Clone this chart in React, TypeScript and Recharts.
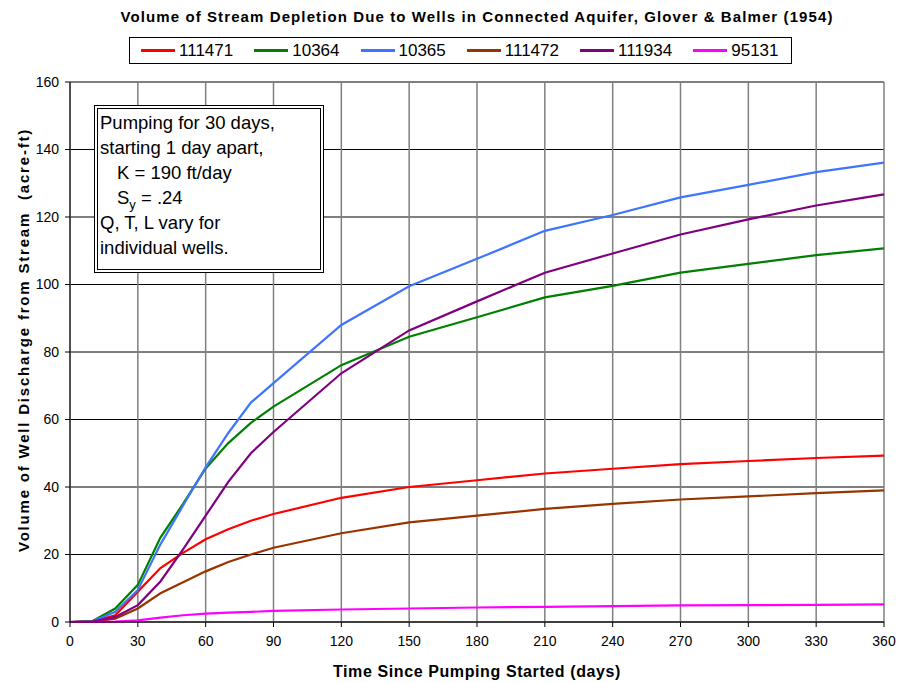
import { LineChart, Line, XAxis, YAxis, CartesianGrid } from 'recharts';

const days = [0, 10, 20, 30, 40, 50, 60, 70, 80, 90, 120, 150, 180, 210, 240, 270, 300, 330, 360];
const w111471 = [0, 0.2, 2, 9, 16, 20.5, 24.5, 27.5, 30, 32, 36.8, 40, 42, 44, 45.4, 46.8, 47.7, 48.6, 49.3];
const w10364 = [0, 0.3, 4, 11, 25, 35, 45.5, 53, 59, 63.8, 76.1, 84.5, 90.3, 96.2, 99.6, 103.5, 106.1, 108.7, 110.7];
const w10365 = [0, 0.2, 3, 9.5, 23, 34.5, 45.8, 56, 65, 70.8, 88, 99.5, 107.6, 115.9, 120.6, 125.8, 129.5, 133.3, 136.1];
const w111472 = [0, 0.1, 1, 4, 8.5, 11.8, 15, 17.8, 20, 22, 26.3, 29.5, 31.5, 33.5, 35, 36.3, 37.2, 38.2, 39];
const w111934 = [0, 0.1, 1.5, 5, 12, 21.5, 31.5, 41.5, 50, 56.3, 73.7, 86.4, 95, 103.5, 109.2, 114.8, 119.3, 123.4, 126.7];
const w95131 = [0, 0, 0.1, 0.5, 1.3, 2, 2.5, 2.8, 3, 3.3, 3.7, 4, 4.3, 4.5, 4.7, 4.9, 5, 5.1, 5.2];

const xTicks = [0, 30, 60, 90, 120, 150, 180, 210, 240, 270, 300, 330, 360];
const yTicks = [0, 20, 40, 60, 80, 100, 120, 140, 160];

const series = [
  { key: '111471', values: w111471, color: '#FF0000' },
  { key: '10364', values: w10364, color: '#008000' },
  { key: '10365', values: w10365, color: '#3F74FF' },
  { key: '111472', values: w111472, color: '#993300' },
  { key: '111934', values: w111934, color: '#800080' },
  { key: '95131', values: w95131, color: '#FF00FF' },
];

const data = days.map((d, i) => {
  const row: Record<string, number> = { day: d };
  series.forEach((s) => {
    row[s.key] = s.values[i];
  });
  return row;
});

const font = 'Arial, "Liberation Sans", Helvetica, sans-serif';

function LegendBox() {
  return (
    <div
      style={{
        position: 'absolute',
        left: 129,
        top: 37,
        display: 'flex',
        alignItems: 'center',
        border: '1px solid #000',
        background: '#fff',
        height: 27,
        width: 663,
        boxSizing: 'border-box',
        paddingLeft: 11,
        fontSize: 17,
      }}
    >
      {series.map((s) => (
        <div key={s.key} style={{ display: 'flex', alignItems: 'center', marginRight: 21 }}>
          <div style={{ width: 34, height: 3, background: s.color, marginRight: 4 }} />
          <span>{s.key}</span>
        </div>
      ))}
    </div>
  );
}

export default function App() {
  return (
    <div style={{ position: 'absolute', left: 0, top: 0, width: 897, height: 683, background: '#fff', fontFamily: font }}>
      <LineChart width={897} height={683} data={data} margin={{ top: 82, right: 13, bottom: 31, left: 30 }}>
        <CartesianGrid vertical={false} stroke="#000" strokeWidth={1} />
        <CartesianGrid horizontal={false} stroke="#808080" strokeWidth={1.5} />
        <XAxis
          dataKey="day"
          type="number"
          domain={[0, 360]}
          ticks={xTicks}
          height={30}
          stroke="#000"
          tickSize={5}
          tickMargin={9}
          tick={{ fill: '#000', fontSize: 14, fontFamily: font }}
          interval={0}
        />
        <YAxis
          type="number"
          domain={[0, 160]}
          ticks={yTicks}
          width={40}
          stroke="#000"
          tickSize={5}
          tickMargin={6}
          tick={{ fill: '#000', fontSize: 14, fontFamily: font }}
          interval={0}
        />
        {series.map((s) => (
          <Line
            key={s.key}
            dataKey={s.key}
            stroke={s.color}
            strokeWidth={2.2}
            dot={false}
            type="linear"
            isAnimationActive={false}
          />
        ))}
        <text x={477} y={22} textAnchor="middle" fontSize={15} fontWeight="bold" fontFamily={font} letterSpacing={1.1}>
          Volume of Stream Depletion Due to Wells in Connected Aquifer, Glover &amp; Balmer (1954)
        </text>
        <text x={477} y={677} textAnchor="middle" fontSize={16} fontWeight="bold" fontFamily={font} letterSpacing={0.6}>
          Time Since Pumping Started (days)
        </text>
        <text
          x={29}
          y={340}
          textAnchor="middle"
          fontSize={15}
          fontWeight="bold"
          fontFamily={font}
          letterSpacing={1.8}
          transform="rotate(-90 29 340)"
          xmlSpace="preserve"
        >
          Volume of Well Discharge from Stream  (acre-ft)
        </text>
      </LineChart>
      <LegendBox />
      <div
        style={{
          position: 'absolute',
          left: 94,
          top: 105,
          width: 230,
          height: 168,
          border: '4px double #000',
          boxSizing: 'border-box',
          background: '#fff',
          padding: '1px 0 0 2px',
          fontSize: 18.5,
          lineHeight: '25px',
          color: '#000',
        }}
      >
        <div>Pumping for 30 days,</div>
        <div>starting 1 day apart,</div>
        <div style={{ paddingLeft: 17 }}>K = 190 ft/day</div>
        <div style={{ paddingLeft: 17 }}>
          S<sub style={{ fontSize: 13, lineHeight: 0 }}>y</sub> = .24
        </div>
        <div>Q, T, L vary for</div>
        <div>individual wells.</div>
      </div>
    </div>
  );
}
